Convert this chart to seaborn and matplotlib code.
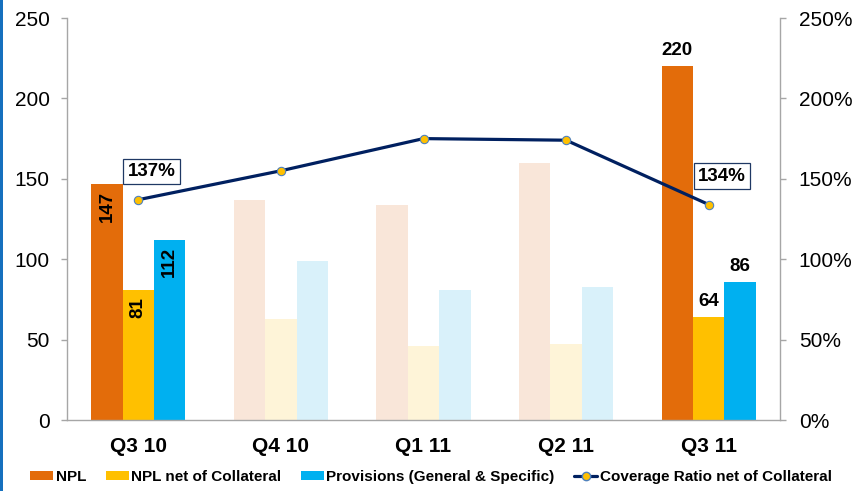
import matplotlib
matplotlib.use("Agg")
import matplotlib.pyplot as plt
from matplotlib.patches import Patch, Rectangle
from matplotlib.lines import Line2D
import numpy as np
import pandas as pd
import seaborn as sns

# data
quarters = ["Q3 10", "Q4 10", "Q1 11", "Q2 11", "Q3 11"]
npl = [147, 137, 134, 160, 220]
npl_net = [81, 63, 46, 47, 64]
provisions = [112, 99, 81, 83, 86]
coverage = [137, 155, 175, 174, 134]  # percent
series = ["NPL", "NPL net of Collateral", "Provisions (General & Specific)"]
line_label = "Coverage Ratio net of Collateral"
highlight = ["Q3 10", "Q3 11"]
left_ticks = [0, 50, 100, 150, 200, 250]
right_ticks = [0, 50, 100, 150, 200, 250]

full_colors = ["#E36C0A", "#FFC000", "#00B0F0"]
faded_colors = ["#F9E6D9", "#FEF4D8", "#D9F1FA"]
line_color = "#002060"
axis_gray = "#A6A6A6"

sns.set_style("white")
plt.rcParams["font.family"] = ["Liberation Sans", "DejaVu Sans"]
plt.rcParams.update({"text.color": "black", "xtick.color": "black", "ytick.color": "black"})

df = pd.DataFrame({
    "quarter": quarters * 3,
    "series": np.repeat(series, len(quarters)),
    "value": npl + npl_net + provisions,
})

fig = plt.figure(figsize=(8.62, 4.91), dpi=100)
ax = fig.add_axes([67 / 862, 71 / 491, 713 / 862, 402 / 491])

sns.barplot(data=df, x="quarter", y="value", hue="series", order=quarters,
            hue_order=series, palette=full_colors, width=0.66, linewidth=0,
            saturation=1, legend=False, ax=ax)

# fade the middle quarters, label the highlighted ones
for j, cont in enumerate(ax.containers):
    for i, bar in enumerate(cont.patches):
        q = quarters[i]
        if q not in highlight:
            bar.set_facecolor(faded_colors[j])
            continue
        v = bar.get_height()
        xc = bar.get_x() + bar.get_width() / 2
        if i == 0:
            ax.annotate(f"{v:.0f}", xy=(xc, v), xytext=(0, -5), textcoords="offset points",
                        rotation=90, ha="center", va="top", fontsize=13.5, fontweight="bold")
        else:
            ax.annotate(f"{v:.0f}", xy=(xc, v), xytext=(0, 5), textcoords="offset points",
                        ha="center", va="bottom", fontsize=13.5, fontweight="bold")

ax2 = ax.twinx()
sns.lineplot(x=np.arange(len(quarters)), y=coverage, ax=ax2, color=line_color, lw=2.3,
             marker="o", markersize=6, markerfacecolor="#FFC000",
             markeredgecolor="#4F81BD", markeredgewidth=0.8)
for i, q in enumerate(quarters):
    if q in highlight:
        ax2.annotate(f"{coverage[i]}%", xy=(i, coverage[i]), xytext=(9.5, 20.5),
                     textcoords="offset points", ha="center", va="center",
                     fontsize=13.5, fontweight="bold",
                     bbox=dict(boxstyle="square,pad=0.22", fc="white", ec="#1F3864", lw=0.9))

ax.set_xlim(-0.5, len(quarters) - 0.5)
ax.set_ylim(0, 250)
ax2.set_ylim(0, 250)
ax.set_xlabel("")
ax.set_ylabel("")
ax2.set_ylabel("")

ax.set_xticks(range(len(quarters)))
ax.set_xticklabels(quarters, fontsize=15, fontweight="bold")
ax.set_xticks(np.arange(-0.5, len(quarters), 1), minor=True)
ax.tick_params(axis="x", which="major", length=0, pad=12)
ax.tick_params(axis="x", which="minor", length=5, width=1, color=axis_gray, direction="out")
ax.set_yticks(left_ticks)
ax.tick_params(axis="y", length=4.5, width=1, color=axis_gray, labelcolor="black",
               pad=8, labelsize=15, left=True)
ax2.set_yticks(right_ticks)
ax2.set_yticklabels([f"{t}%" for t in right_ticks])
ax2.tick_params(axis="y", length=4.5, width=1, color=axis_gray, labelcolor="black",
                pad=9, labelsize=15)

for s in ["top", "right"]:
    ax.spines[s].set_visible(False)
for s in ["top", "left", "bottom"]:
    ax2.spines[s].set_visible(False)
for a, s in [(ax, "left"), (ax, "bottom"), (ax2, "right")]:
    a.spines[s].set_color(axis_gray)
    a.spines[s].set_linewidth(1)

handles = [Patch(facecolor=c, edgecolor="none") for c in full_colors]
handles.append(Line2D([0], [0], color=line_color, lw=2.3, marker="o", markersize=6,
                      markerfacecolor="#FFC000", markeredgecolor="#4F81BD"))
fig.legend(handles, series + [line_label], loc="center", bbox_to_anchor=(0.5, 1 - 477 / 491),
           ncol=4, frameon=False, prop={"weight": "bold", "size": 11},
           handlelength=1.5, handleheight=0.55, handletextpad=0.15, columnspacing=1.3,
           numpoints=1)

fig.add_artist(Rectangle((0, 0), 3 / 862, 1, transform=fig.transFigure,
                         color="#1570BE", lw=0))

fig.savefig("out.png", dpi=100)
plt.close(fig)
